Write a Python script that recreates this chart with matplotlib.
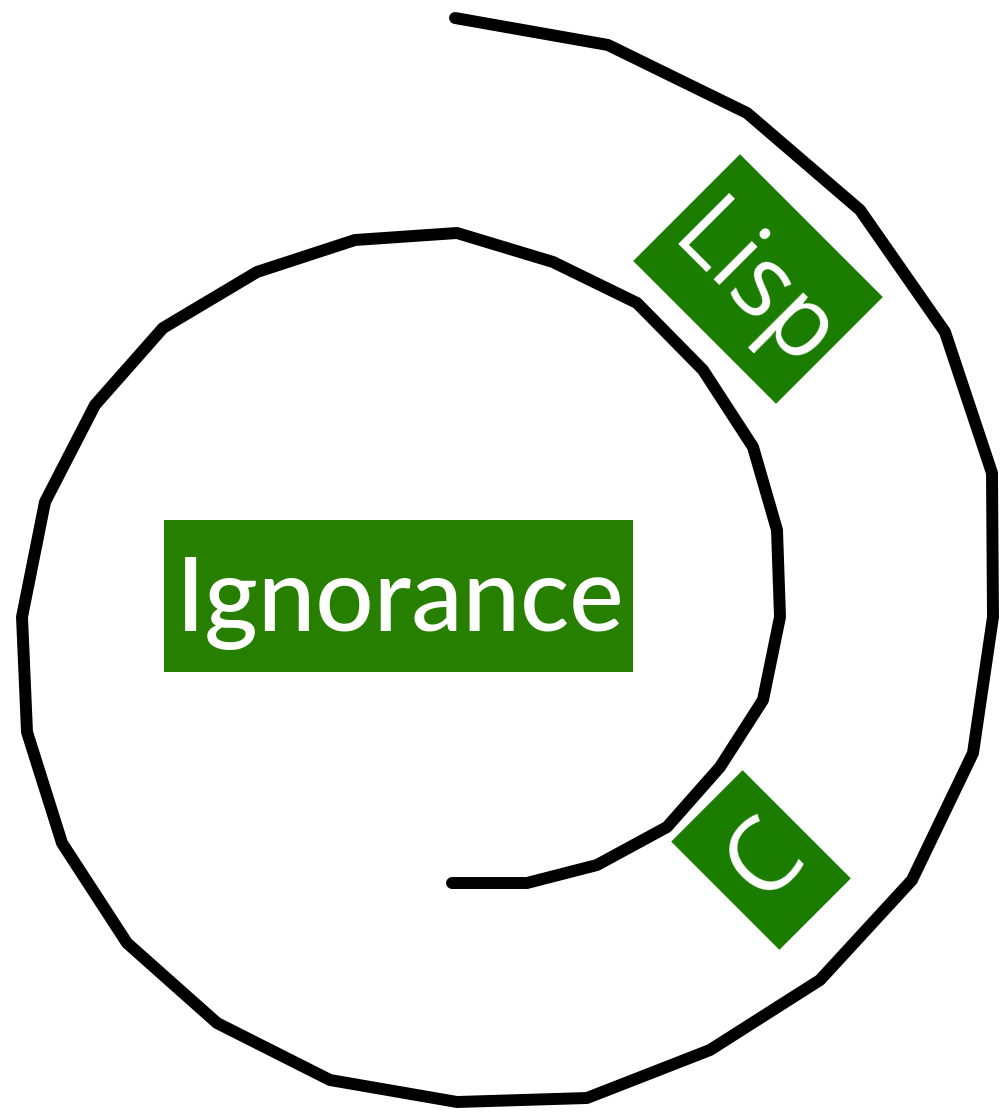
import matplotlib
matplotlib.use('Agg')
import matplotlib.pyplot as plt
from matplotlib.patches import Rectangle

# spiral vertices (pixel coords, y down), inner end first
spiral_x = [452, 527, 597, 667, 720, 763, 780, 777, 753, 703, 637, 553, 457,
            355, 257, 163, 95, 45, 22, 27, 62, 127, 217, 330, 457, 587, 710,
            820, 912, 973, 993, 992, 945, 860, 747, 608, 455]
spiral_y = [883, 883, 865, 827, 767, 700, 617, 530, 447, 370, 303, 262, 233,
            240, 272, 328, 405, 502, 617, 732, 843, 943, 1023, 1080, 1102, 1098, 1050,
            980, 880, 753, 617, 473, 332, 210, 113, 45, 18]

labels = ['Ignorance', 'Lisp', 'C']
label_x = [398, 758, 761]
label_y = [596, 279, 860]
text_x = [400, 752, 766]
text_y = [604, 290, 861]
box_w = [469, 202, 153]
box_h = [152, 151, 101]
box_angle = [0, 45, 45]          # in data coords (y axis inverted)
text_rot = [0, -45, 45]          # on screen
box_color = ['#277f00', '#1a7d00', '#1a7d00']
font = ['Lato', 'Open Sans', 'Open Sans']
weight = ['medium', 'normal', 'normal']
size = [74, 72, 74]

W, H = 1001, 1113
fig = plt.figure(figsize=(W / 100, H / 100), dpi=100)
ax = fig.add_axes([0, 0, 1, 1])
ax.set_xlim(0, W)
ax.set_ylim(H, 0)
ax.axis('off')

ax.plot(spiral_x, spiral_y, color='black', lw=8.6,
        solid_capstyle='round', solid_joinstyle='round')

for i, lab in enumerate(labels):
    rect = Rectangle((label_x[i] - box_w[i] / 2, label_y[i] - box_h[i] / 2),
                     box_w[i], box_h[i], angle=box_angle[i],
                     rotation_point='center', facecolor=box_color[i],
                     edgecolor='none', zorder=3)
    ax.add_patch(rect)
    ax.text(text_x[i], text_y[i], lab, color='white', fontsize=size[i],
            family=font[i], fontweight=weight[i], ha='center', va='center',
            rotation=text_rot[i], rotation_mode='anchor', zorder=4)

fig.savefig('out.png', dpi=100, facecolor='white')
